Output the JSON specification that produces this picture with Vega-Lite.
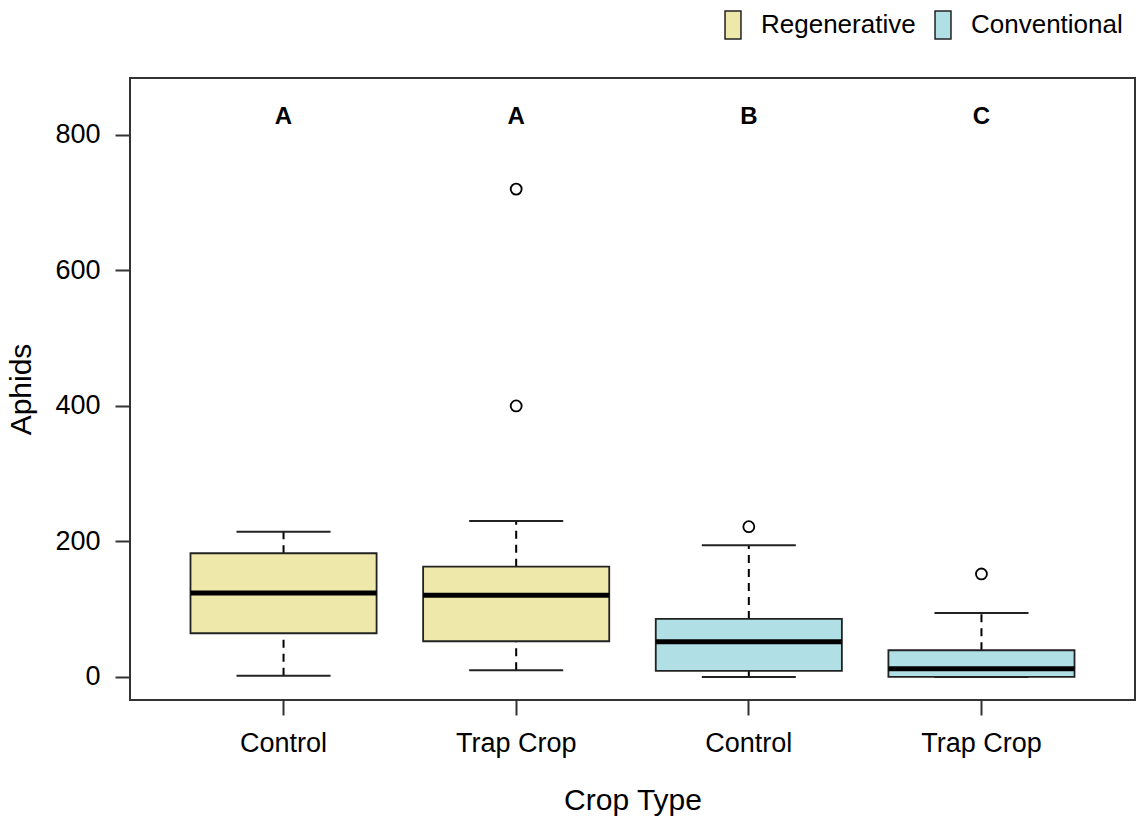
{
  "$schema": "https://vega.github.io/schema/vega-lite/v6.json",
  "width": 1005,
  "height": 622,
  "autosize": {"type": "none"},
  "padding": {"left": 130, "top": 78, "right": 1, "bottom": 122},
  "background": "white",
  "config": {
    "font": "Liberation Sans",
    "view": {"stroke": "#333", "strokeWidth": 2},
    "axis": {"grid": false, "domain": false, "tickColor": "#333", "tickWidth": 2, "tickSize": 15, "labelColor": "#000", "titleColor": "#000", "labelFont": "Liberation Sans", "titleFont": "Liberation Sans", "titleFontWeight": "normal"}
  },
  "datasets": {
    "boxes": [
      {"grp": "R:Control", "system": "Regenerative", "lower": 1.9, "q1": 64.5, "median": 124, "q3": 182.6, "upper": 214.5, "letter": "A", "ly": 827},
      {"grp": "R:Trap Crop", "system": "Regenerative", "lower": 9.9, "q1": 52.7, "median": 120.6, "q3": 162.8, "upper": 230, "letter": "A", "ly": 827},
      {"grp": "C:Control", "system": "Conventional", "lower": 0, "q1": 8.9, "median": 52.1, "q3": 85.6, "upper": 194.3, "letter": "B", "ly": 827},
      {"grp": "C:Trap Crop", "system": "Conventional", "lower": 0, "q1": 0, "median": 12.3, "q3": 39.4, "upper": 94.5, "letter": "C", "ly": 827}
    ],
    "outliers": [
      {"grp": "R:Trap Crop", "value": 720},
      {"grp": "R:Trap Crop", "value": 400},
      {"grp": "C:Control", "value": 221.8},
      {"grp": "C:Trap Crop", "value": 152}
    ]
  },
  "encoding": {
    "x": {
      "field": "grp", "type": "nominal",
      "scale": {"domain": ["R:Control", "R:Trap Crop", "C:Control", "C:Trap Crop"], "paddingInner": 0.2, "paddingOuter": 0.26},
      "axis": {"title": "Crop Type", "labelExpr": "slice(datum.label, 2)", "labelAngle": 0, "labelFontSize": 27, "labelPadding": 15, "titleFontSize": 30, "titlePadding": 29}
    }
  },
  "layer": [
    {
      "data": {"name": "boxes"},
      "mark": {"type": "rule", "color": "#000", "strokeWidth": 2, "strokeDash": [8, 6]},
      "encoding": {
        "y": {"field": "q3", "type": "quantitative", "scale": {"domain": [-34, 884], "nice": false, "zero": false},
          "axis": {"title": "Aphids", "values": [0, 200, 400, 600, 800], "labelFontSize": 27, "labelPadding": 15, "titleFontSize": 30, "titlePadding": 18}},
        "y2": {"field": "upper"}
      }
    },
    {
      "data": {"name": "boxes"},
      "mark": {"type": "rule", "color": "#000", "strokeWidth": 2, "strokeDash": [8, 6]},
      "encoding": {
        "y": {"field": "lower", "type": "quantitative"},
        "y2": {"field": "q1"}
      }
    },
    {
      "data": {"name": "boxes"},
      "mark": {"type": "tick", "color": "#222", "size": 94, "thickness": 2, "opacity": 1},
      "encoding": {"y": {"field": "upper", "type": "quantitative"}}
    },
    {
      "data": {"name": "boxes"},
      "mark": {"type": "tick", "color": "#222", "size": 94, "thickness": 2, "opacity": 1},
      "encoding": {"y": {"field": "lower", "type": "quantitative"}}
    },
    {
      "data": {"name": "boxes"},
      "mark": {"type": "bar", "stroke": "#222", "strokeWidth": 1.8, "opacity": 1},
      "encoding": {
        "y": {"field": "q1", "type": "quantitative"},
        "y2": {"field": "q3"},
        "fill": {
          "field": "system", "type": "nominal",
          "scale": {"domain": ["Regenerative", "Conventional"], "range": ["#EEE8AA", "#B0E0E6"]},
          "legend": {
            "orient": "none", "legendX": 588, "legendY": -68, "direction": "horizontal", "title": null,
            "padding": 0, "symbolType": "M-0.57,-1H0.57V1H-0.57Z", "symbolSize": 784,
            "symbolStrokeColor": "#222", "symbolStrokeWidth": 1.5, "symbolOpacity": 1,
            "labelFontSize": 26, "labelColor": "#000", "labelFont": "Liberation Sans", "labelOffset": 13, "columnPadding": 12, "labelLimit": 400
          }
        }
      }
    },
    {
      "data": {"name": "boxes"},
      "mark": {"type": "tick", "color": "#000", "size": 186, "thickness": 5, "opacity": 1},
      "encoding": {"y": {"field": "median", "type": "quantitative"}}
    },
    {
      "data": {"name": "outliers"},
      "mark": {"type": "point", "shape": "circle", "filled": false, "stroke": "#000", "strokeWidth": 1.8, "size": 120, "opacity": 1},
      "encoding": {"y": {"field": "value", "type": "quantitative"}}
    },
    {
      "data": {"name": "boxes"},
      "mark": {"type": "text", "fontSize": 24, "fontWeight": "bold", "font": "Liberation Sans", "baseline": "middle", "align": "center", "color": "#000"},
      "encoding": {
        "y": {"field": "ly", "type": "quantitative"},
        "text": {"field": "letter"}
      }
    }
  ]
}
